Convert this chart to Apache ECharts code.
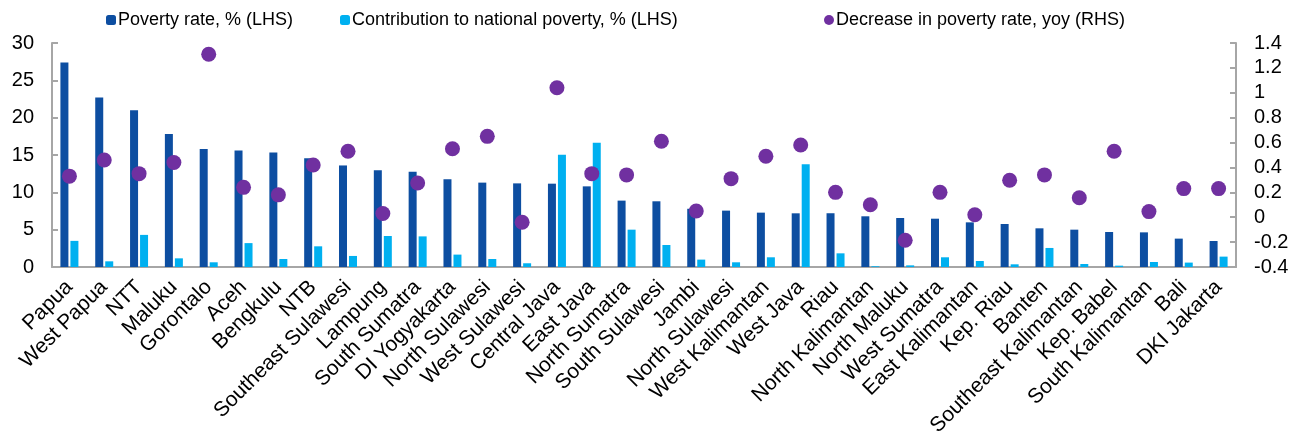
<!DOCTYPE html>
<html>
<head>
<meta charset="utf-8">
<script src="https://cdn.jsdelivr.net/npm/echarts@6/dist/echarts.min.js"></script>
<style>
  html, body { margin: 0; padding: 0; background: #fff; }
  #chart { width: 1302px; height: 439px; }
</style>
</head>
<body>
<div id="chart"></div>
<script>
var provinces = ['Papua', 'West Papua', 'NTT', 'Maluku', 'Gorontalo', 'Aceh', 'Bengkulu', 'NTB',
  'Southeast Sulawesi', 'Lampung', 'South Sumatra', 'DI Yogyakarta', 'North Sulawesi', 'West Sulawesi',
  'Central Java', 'East Java', 'North Sumatra', 'South Sulawesi', 'Jambi', 'North Sulawesi',
  'West Kalimantan', 'West Java', 'Riau', 'North Kalimantan', 'North Maluku', 'West Sumatra',
  'East Kalimantan', 'Kep. Riau', 'Banten', 'Southeast Kalimantan', 'Kep. Babel', 'South Kalimantan',
  'Bali', 'DKI Jakarta'];

// LHS, %
var povertyRate = [27.4, 22.7, 21.0, 17.8, 15.8, 15.6, 15.35, 14.55, 13.6, 12.95, 12.77, 11.74, 11.3, 11.2,
  11.16, 10.8, 8.89, 8.8, 7.8, 7.55, 7.28, 7.19, 7.2, 6.79, 6.56, 6.47, 5.98, 5.76, 5.18, 5.0, 4.69, 4.64,
  3.8, 3.48];
var contribution = [3.5, 0.76, 4.3, 1.16, 0.63, 3.2, 1.07, 2.77, 1.48, 4.15, 4.1, 1.66, 1.07, 0.5,
  15.05, 16.65, 5.0, 2.95, 0.99, 0.63, 1.3, 13.75, 1.83, 0.1, 0.22, 1.3, 0.8, 0.36, 2.55, 0.4, 0.18, 0.67,
  0.59, 1.39];
// RHS
var decreaseYoy = [0.33, 0.46, 0.35, 0.44, 1.31, 0.24, 0.18, 0.42, 0.53, 0.03, 0.275, 0.55, 0.65, -0.04,
  1.04, 0.35, 0.34, 0.61, 0.05, 0.31, 0.49, 0.58, 0.2, 0.1, -0.185, 0.2, 0.02, 0.297, 0.34, 0.157, 0.53,
  0.045, 0.23, 0.23];

var seriesNames = ['Poverty rate, % (LHS)', 'Contribution to national poverty, % (LHS)', 'Decrease in poverty rate, yoy (RHS)'];

var font = 'Liberation Sans, Arial, sans-serif';
var axisGrey = '#a6a6a6';

var myChart = echarts.init(document.getElementById('chart'));

function legendAt(left, name) {
  return {
    left: left, top: 11, padding: 0,
    itemWidth: 10, itemHeight: 10, itemGap: 0,
    data: [name],
    textStyle: { fontFamily: font, fontSize: 18, color: '#000', padding: [0, 0, 0, -3] }
  };
}

var option = {
  animation: false,
  backgroundColor: '#fff',
  legend: [
    legendAt(106, seriesNames[0]),
    legendAt(340, seriesNames[1]),
    legendAt(824, seriesNames[2])
  ],
  grid: { left: 52, right: 66, top: 43, bottom: 172 },
  xAxis: {
    type: 'category',
    data: provinces,
    axisLine: { lineStyle: { color: axisGrey, width: 2 } },
    axisTick: { inside: true, length: 6, lineStyle: { color: axisGrey, width: 2 } },
    axisLabel: { rotate: 45, interval: 0, margin: 17, fontFamily: font, fontSize: 21, color: '#000' }
  },
  yAxis: [
    {
      type: 'value', min: 0, max: 30, interval: 5,
      axisLine: { show: true, lineStyle: { color: axisGrey, width: 2 } },
      axisTick: { show: true, inside: true, length: 6, lineStyle: { color: axisGrey, width: 2 } },
      splitLine: { show: false },
      axisLabel: { margin: 18, fontFamily: font, fontSize: 20, color: '#000' }
    },
    {
      type: 'value', min: -0.4, max: 1.4, interval: 0.2,
      axisLine: { show: true, lineStyle: { color: axisGrey, width: 2 } },
      axisTick: { show: true, inside: true, length: 6, lineStyle: { color: axisGrey, width: 2 } },
      splitLine: { show: false },
      axisLabel: { margin: 18, fontFamily: font, fontSize: 20, color: '#000' }
    }
  ],
  series: [
    {
      name: seriesNames[0], type: 'bar', data: povertyRate,
      barWidth: 8, barGap: '25%',
      itemStyle: { color: '#0d4ea1' }
    },
    {
      name: seriesNames[1], type: 'bar', data: contribution,
      barWidth: 8, barGap: '25%',
      itemStyle: { color: '#00b0f0' }
    },
    {
      name: seriesNames[2], type: 'scatter', yAxisIndex: 1, data: decreaseYoy,
      symbol: 'circle', symbolSize: 15, z: 5,
      itemStyle: { color: '#7030a0', opacity: 1 }
    }
  ]
};

myChart.setOption(option);
</script>
</body>
</html>
